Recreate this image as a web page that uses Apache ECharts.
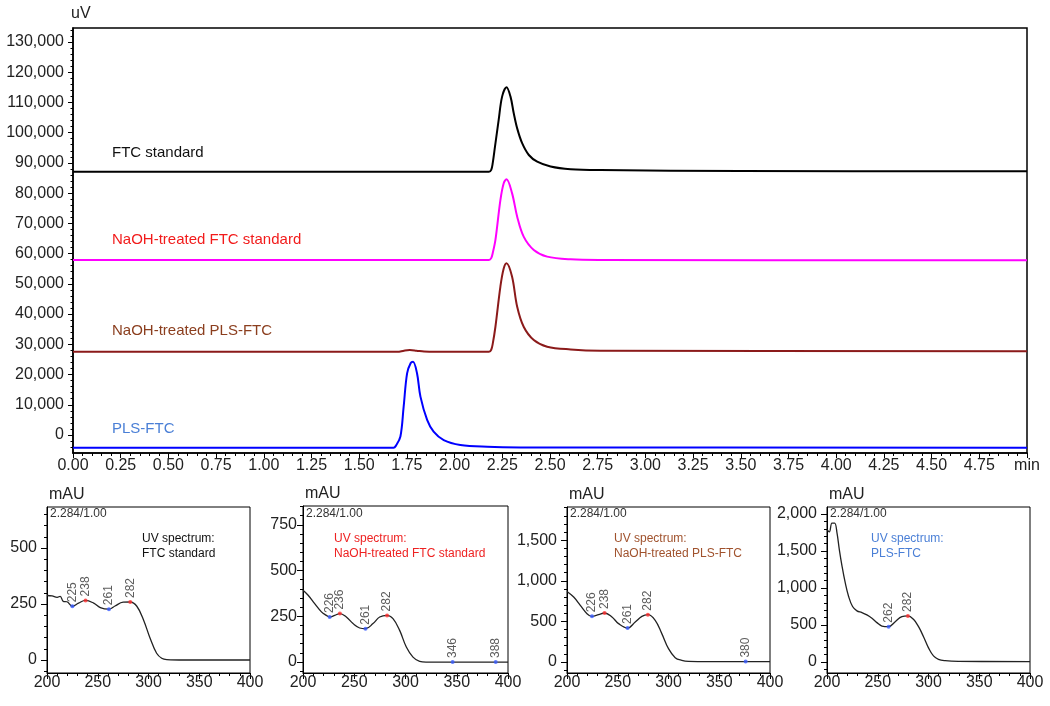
<!DOCTYPE html>
<html><head><meta charset="utf-8">
<script src="https://cdn.jsdelivr.net/npm/echarts@6/dist/echarts.min.js"></script>
<style>html,body{margin:0;padding:0;background:#fff}#c{width:1050px;height:706px}</style>
</head><body><div id="c"></div>
<script>
// ---------- Chromatograms (time in min, signal in uV) ----------
const ftcStd = [[0,87100],[2.180,87100],[2.192,87700],[2.200,90000],[2.212,95500],[2.231,104200],[2.249,111900],[2.272,115000],[2.293,111900],[2.310,106400],[2.328,101400],[2.354,96500],[2.389,92600],[2.433,90400],[2.503,88800],[2.608,87900],[2.765,87600],[3.5,87300],[5,87200]];
const naohFtcStd = [[0,57900],[2.180,57900],[2.192,58500],[2.200,60200],[2.214,64500],[2.240,77700],[2.257,83200],[2.272,84600],[2.301,80000],[2.328,72200],[2.362,65600],[2.415,61200],[2.485,59000],[2.608,58100],[2.765,57900],[5,57800]];
const naohPlsFtc = [[0,27500],[1.700,27500],[1.735,27900],[1.765,28100],[1.800,27900],[1.840,27600],[1.900,27500],[2.180,27500],[2.192,28200],[2.200,30200],[2.214,35800],[2.240,49100],[2.257,55000],[2.272,56800],[2.301,52400],[2.328,42400],[2.362,35800],[2.415,31400],[2.485,29200],[2.608,28300],[2.765,27900],[5,27700]];
const plsFtc = [[0,-4200],[1.680,-4200],[1.692,-3600],[1.716,-500],[1.733,9400],[1.751,20400],[1.770,23800],[1.782,24200],[1.803,20400],[1.821,12700],[1.856,5000],[1.890,1100],[1.943,-1700],[2.030,-3300],[2.171,-3900],[2.345,-4100],[5,-4200]];
const chromNames = ['FTC standard','NaOH-treated FTC standard','NaOH-treated PLS-FTC','PLS-FTC'];
const yTicksTop = [0,10000,20000,30000,40000,50000,60000,70000,80000,90000,100000,110000,120000,130000];

// ---------- UV spectra (wavelength nm, mAU) ----------
const spec1 = [[200,288],[205,286],[210,280],[213,284],[216,262],[219.7,260],[225,240],[231,254],[238,266],[246,254],[252.5,234],[261,227],[267,241],[275,258],[282,259],[288.5,240],[295,180],[301.6,97],[308,30],[313,8],[318,2],[335,0],[400,0]];
const spec2 = [[200,392],[205,365],[211.4,319],[218,274],[222.8,255],[226,246],[231,255],[236,265],[242.3,246],[248.8,210],[255.3,186],[261,182],[268.3,210],[274.8,246],[282,255],[287.8,237],[294.3,173],[300.8,82],[307.3,27],[313.8,4],[320,0],[400,0]];
const spec3 = [[200,869],[206.6,800],[213.1,697],[219.7,595],[224.6,562],[231.1,582],[237,603],[244.3,554],[250.8,472],[259.7,418],[267.2,492],[273.8,562],[279.7,582],[286.9,513],[293.4,349],[300,164],[306.6,53],[313.1,20],[319.7,8],[340,5],[400,5]];
const spec4 = [[200,1790],[202.3,1759],[204.9,1877],[207.5,1877],[209.8,1750],[212.1,1523],[214.8,1295],[218,1068],[221.3,886],[225.2,750],[229.5,691],[234.4,668],[239.3,636],[244.3,591],[249.2,532],[254.1,486],[260.7,477],[267.2,545],[273.8,614],[279.7,623],[285.2,577],[290.2,477],[295.1,341],[300,191],[304.9,82],[309.8,36],[316.4,18],[329.5,9],[400,5]];
const peaks1 = [[225,240],[238,266],[261,227],[282,259]];
const peakLabels1 = ['225','238','261','282'];
const peakKinds1 = ['min','max','min','max'];
const peaks2 = [[226,246],[236,265],[261,182],[282,255],[346,0],[388,0]];
const peakLabels2 = ['226','236','261','282','346','388'];
const peakKinds2 = ['min','max','min','max','min','min'];
const peaks3 = [[224.6,562],[237,603],[259.7,418],[279.7,582],[376,5]];
const peakLabels3 = ['226','238','261','282','380'];
const peakKinds3 = ['min','max','min','max','min'];
const peaks4 = [[260.7,477],[279.7,623]];
const peakLabels4 = ['262','282'];
const peakKinds4 = ['min','max'];
const specTitles = ['FTC standard','NaOH-treated FTC standard','NaOH-treated PLS-FTC','PLS-FTC'];
const specYTicks = [[0,250,500],[0,250,500,750],[0,500,1000,1500],[0,500,1000,1500,2000]];
const specYRange = [[-58,683],[-60,853],[-136,1909],[-149,2095]];
const specMinorStep = [50,50,100,100];
const spectrumTime = '2.284/1.00';

// ---------- layout / style ----------
const FONT = 'Liberation Sans, Arial, sans-serif';
const fmt = v => Number(v).toLocaleString('en-US');
const lineColors = ['#000000','#ff00ff','#8b1a1a','#0000ff'];
const textColors = ['#111111','#f21b1b','#8b3e1e','#4a7fd6'];
const specTextColors = ['#111111','#ee2222','#a0522d','#4a7fd6'];
const specGrids = [
  {left:47, top:507, width:203, height:166},
  {left:303, top:506, width:205, height:167},
  {left:567, top:507, width:203, height:166},
  {left:827, top:507, width:203, height:166}
];
const specLabelMargin = [10,6,10,10];

function range(a,b,s){const r=[];for(let v=a;v<=b+1e-9;v+=s)r.push(Math.round(v*1000)/1000);return r;}

const grids = [{left:73, top:28, width:954, height:425, show:true, borderColor:'#000', borderWidth:1.5}]
  .concat(specGrids.map(g => Object.assign({show:true, borderColor:'#000', borderWidth:1}, g)));

const xAxes = [{
  type:'value', gridIndex:0, min:0, max:5, interval:0.25,
  axisLine:{show:true, onZero:false, lineStyle:{color:'#000', width:1.5}},
  axisTick:{show:true, length:5, lineStyle:{color:'#000'}},
  minorTick:{show:true, splitNumber:5, length:3, lineStyle:{color:'#000'}},
  axisLabel:{fontSize:16, color:'#222', fontFamily:FONT, margin:5, formatter: v => Math.abs(v-5)<1e-6 ? 'min' : v.toFixed(2)},
  splitLine:{show:false}
}];
specGrids.forEach((g,i)=>{
  xAxes.push({
    type:'value', gridIndex:i+1, min:200, max:400, interval:50,
    axisLine:{show:true, onZero:false, lineStyle:{color:'#000', width:1}},
    axisTick:{show:true, length:6, lineStyle:{color:'#000'}},
    minorTick:{show:true, splitNumber:5, length:3, lineStyle:{color:'#000'}},
    axisLabel:{fontSize:16, color:'#222', fontFamily:FONT, margin:2},
    splitLine:{show:false}
  });
});

const yAxes = [];
yAxes.push({
  type:'value', gridIndex:0, min:-5950, max:134600, position:'left', offset:0,
  name:'uV', nameLocation:'end', nameGap:6,
  nameTextStyle:{fontSize:16, color:'#222', fontFamily:FONT, align:'left', verticalAlign:'bottom', padding:[0,0,0,-2]},
  axisLine:{show:true, onZero:false, lineStyle:{color:'#000', width:1.5}},
  axisTick:{show:true, customValues:yTicksTop, length:5, lineStyle:{color:'#000'}},
  axisLabel:{customValues:yTicksTop, fontSize:16, color:'#222', fontFamily:FONT, margin:9, formatter:fmt},
  splitLine:{show:false}
});
yAxes.push({
  type:'value', gridIndex:0, min:-5950, max:134600, position:'left', offset:0,
  axisLine:{show:false}, axisLabel:{show:false}, splitLine:{show:false},
  axisTick:{show:true, customValues:range(-4000,134000,2000), length:2.5, lineStyle:{color:'#000'}}
});
specGrids.forEach((g,i)=>{
  const [mn,mx] = specYRange[i];
  yAxes.push({
    type:'value', gridIndex:i+1, min:mn, max:mx, position:'left', offset:0,
    name:'mAU', nameLocation:'end', nameGap:4,
    nameTextStyle:{fontSize:16, color:'#222', fontFamily:FONT, align:'left', verticalAlign:'bottom', padding:[0,0,0,2]},
    axisLine:{show:true, onZero:false, lineStyle:{color:'#000', width:1}},
    axisTick:{show:true, customValues:specYTicks[i], length:6, lineStyle:{color:'#000'}},
    axisLabel:{customValues:specYTicks[i], fontSize:16, color:'#222', fontFamily:FONT, margin:specLabelMargin[i], formatter:fmt},
    splitLine:{show:false}
  });
  const st = specMinorStep[i];
  yAxes.push({
    type:'value', gridIndex:i+1, min:mn, max:mx, position:'left', offset:0,
    axisLine:{show:false}, axisLabel:{show:false}, splitLine:{show:false},
    axisTick:{show:true, customValues:range(Math.ceil(mn/st)*st, Math.floor(mx/st)*st, st), length:3, lineStyle:{color:'#000'}}
  });
});

const series = [];
[ftcStd, naohFtcStd, naohPlsFtc, plsFtc].forEach((d,i)=>{
  series.push({type:'line', name:chromNames[i], xAxisIndex:0, yAxisIndex:0, data:d, showSymbol:false, smooth:0.35,
    lineStyle:{color:lineColors[i], width:2}, z:3});
});
const specs = [spec1,spec2,spec3,spec4];
const peaks = [peaks1,peaks2,peaks3,peaks4];
const peakLabels = [peakLabels1,peakLabels2,peakLabels3,peakLabels4];
const peakKinds = [peakKinds1,peakKinds2,peakKinds3,peakKinds4];
specs.forEach((d,i)=>{
  series.push({type:'line', xAxisIndex:i+1, yAxisIndex:2+2*i, data:d, showSymbol:false, smooth:0.4,
    lineStyle:{color:'#222', width:1.3}, z:3});
  series.push({type:'scatter', xAxisIndex:i+1, yAxisIndex:2+2*i, symbolSize:4, z:5,
    data: peaks[i].map((p,k)=>({value:p, itemStyle:{color: peakKinds[i][k]==='max' ? '#ff3030' : '#3a5cff'}})),
    label:{show:true, position:'top', distance:2, rotate:90, align:'left', verticalAlign:'middle',
      fontSize:12, color:'#333', fontFamily:FONT, formatter: p => peakLabels[i][p.dataIndex]}
  });
});

const graphics = [];
const chromLabelY = [154, 241, 332, 430];
chromNames.forEach((t,i)=>{
  graphics.push({type:'text', left:112, top:chromLabelY[i]-9, style:{text:t, fill:textColors[i], font:'15px '+FONT}});
});
specGrids.forEach((g,i)=>{
  graphics.push({type:'text', left:g.left+3, top:508, style:{text:spectrumTime, fill:'#333', font:'12px '+FONT}});
});
const specTextLeft = [142, 334, 614, 871];
specTitles.forEach((t,i)=>{
  graphics.push({type:'text', left:specTextLeft[i], top:531, style:{text:'UV spectrum:\n'+t, fill:specTextColors[i], font:'12px '+FONT, lineHeight:15}});
});

const chart = echarts.init(document.getElementById('c'));
chart.setOption({
  animation:false,
  backgroundColor:'#fff',
  textStyle:{fontFamily:FONT},
  grid:grids, xAxis:xAxes, yAxis:yAxes, series:series, graphic:graphics
});
</script></body></html>
